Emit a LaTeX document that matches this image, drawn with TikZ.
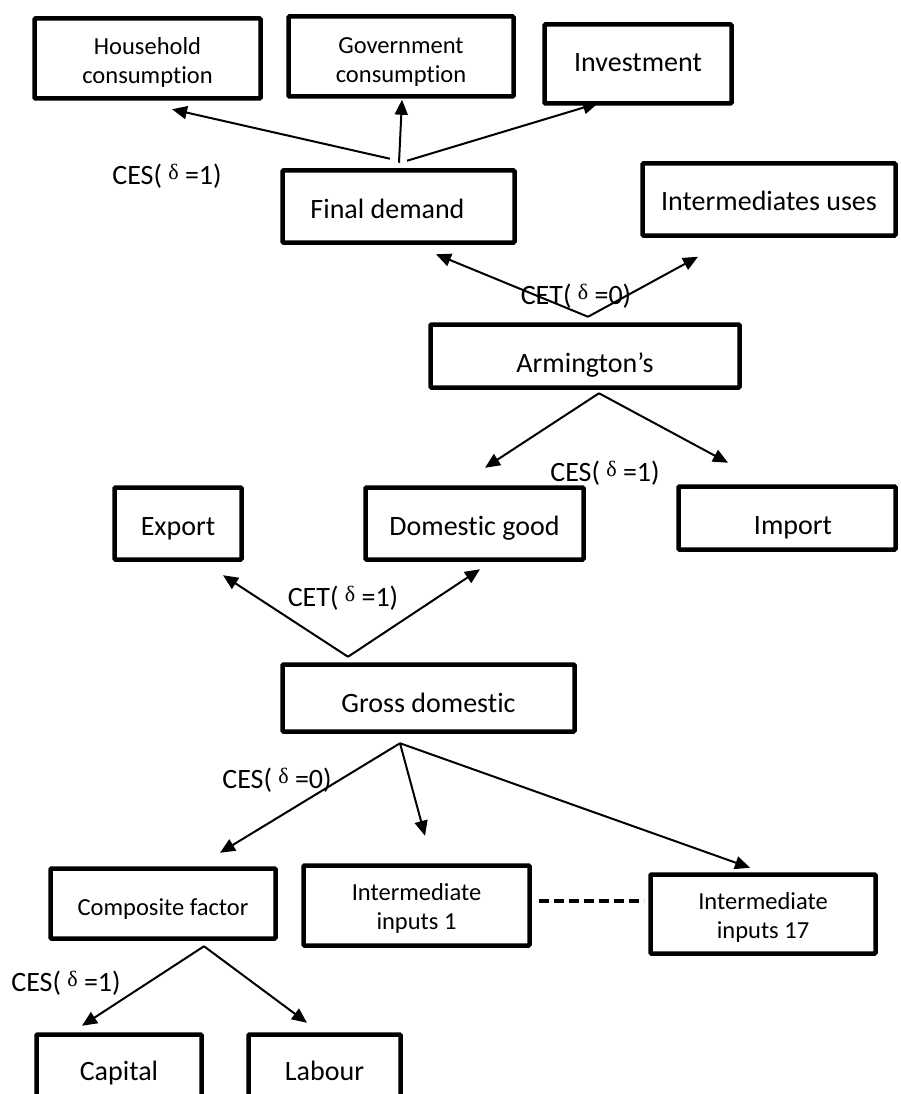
\documentclass[tikz,border=0pt]{standalone}
\usepackage{fontspec}
\setmainfont{Carlito}[Ligatures=NoCommon]
\newfontfamily\grkfont{Liberation Serif}
\usetikzlibrary{arrows.meta,calc}
\newcommand{\dlt}{\raisebox{5pt}{\fontsize{22}{26}\grkfont δ}}
% single line text with declared height (controls vertical position)
\newcommand{\tx}[2]{\raisebox{0pt}[#1][0pt]{#2}}
% two-line text, top-aligned, with declared height/depth
\newcommand{\tw}[3]{\raisebox{0pt}[20pt][#1]{\begin{tabular}[t]{@{}c@{}}#2\\#3\end{tabular}}}
\begin{document}
\begin{tikzpicture}[x=1pt,y=-1pt,
  box/.style={draw, line width=4.5pt, rectangle, rounded corners=1pt, inner sep=0pt, font=\fontsize{28}{33}\selectfont},
  sbox/.style={box, font=\fontsize{24.5}{29}\selectfont},
  conn/.style={line width=2pt, -{Triangle[length=15pt,width=13pt]}},
  lbl/.style={inner sep=0pt, font=\fontsize{28}{33}\selectfont},
  dashconn/.style={line width=4.5pt, dash pattern=on 10pt off 5pt}]
\clip (0,0) rectangle (900,1094);
\fill[white] (0,0) rectangle (900,1094);
% boxes
\node[sbox, minimum width=226pt, minimum height=80pt] (hh)  at (147.5,58.5) {\tw{28pt}{Household}{consumption}};
\node[sbox, minimum width=225pt, minimum height=80pt] (gov) at (401,56.5) {\tw{25.4pt}{Government}{consumption}};
\node[box, minimum width=187pt, minimum height=79pt] (inv) at (638,64) {\tx{15.8pt}{Investment}};
\node[box, minimum width=232pt, minimum height=72pt] (fd)  at (398.5,206.5) {\tx{24.8pt}{Final demand\hspace{22pt}}};
\node[box, minimum width=253pt, minimum height=72pt] (iu)  at (769,199.5) {\tx{22.8pt}{Intermediates uses}};
\node[box, minimum width=309pt, minimum height=63pt] (arm) at (585,356) {\tx{32.8pt}{Armington’s}};
\node[box, minimum width=127pt, minimum height=72pt] (exp) at (178,523.5) {\tx{23.8pt}{Export}};
\node[box, minimum width=218pt, minimum height=72pt] (dom) at (474.5,523.5) {\tx{24.8pt}{Domestic good}};
\node[box, minimum width=217pt, minimum height=63pt] (imp) at (787,518) {\tx{32.8pt}{\hspace{12pt}Import}};
\node[box, minimum width=292pt, minimum height=67pt] (gd)  at (428.5,698) {\tx{28.8pt}{Gross domestic}};
\node[sbox, minimum width=225pt, minimum height=70pt] (cf)  at (163,903.5) {\tx{23.6pt}{Composite factor}};
\node[sbox, minimum width=226pt, minimum height=80pt] (ii1) at (416.5,905.5) {\tw{30.4pt}{Intermediate}{inputs 1}};
\node[sbox, minimum width=225pt, minimum height=79pt] (ii17) at (763,914) {\tw{29.4pt}{Intermediate}{inputs 17}};
\node[box, minimum width=165pt, minimum height=77pt] (cap) at (119,1073) {\tx{14.8pt}{Capital}};
\node[box, minimum width=152pt, minimum height=77pt] (lab) at (324.5,1073) {\tx{14.8pt}{Labour}};
% connectors
\draw[conn] ($(fd.north)+(-8.5,-9.5)$) -- ($(hh.south)+(24.5,8.5)$);
\draw[conn] ($(fd.north)+(0.5,-5.5)$) -- ($(gov.south)+(1,1)$);
\draw[conn] ($(fd.north)+(8.5,-7.5)$) -- ($(inv.south)+(-40,-2.5)$);
\draw[conn] ($(arm.north)+(3,-5.5)$) -- ($(fd.south)+(37.5,9.5)$);
\draw[conn] ($(arm.north)+(3,-5.5)$) -- ($(iu.south)+(-71,19)$);
\draw[conn] ($(arm.south)+(14,3.5)$) -- ($(dom.north)+(10.5,-17.5)$);
\draw[conn] ($(arm.south)+(14,3.5)$) -- ($(imp.north)+(-59,-21.5)$);
\draw[conn] ($(gd.north)+(-80.5,-5.5)$) -- ($(exp.south)+(45,13.5)$);
\draw[conn] ($(gd.north)+(-80.5,-5.5)$) -- ($(dom.south)+(5.5,7.5)$);
\draw[conn] ($(gd.south)+(-28.5,9.5)$) -- ($(cf.north)+(57,-13.5)$);
\draw[conn] ($(gd.south)+(-28.5,9.5)$) -- ($(ii1.north)+(8.5,-27.5)$);
\draw[conn] ($(gd.south)+(-28.5,9.5)$) -- ($(ii17.north)+(-13,-4.5)$);
\draw[conn] ($(cf.south)+(41,5.5)$) -- ($(cap.north)+(-37,-6.5)$);
\draw[conn] ($(cf.south)+(41,5.5)$) -- ($(lab.north)+(-17.5,-9.5)$);
\draw[dashconn] ($(ii1.east)+(7,-4.5)$) -- ($(ii1.east)+(112,-4.5)$);
% labels
\node[lbl] (l1) at (167,176) {CES( \dlt\ =1)};
\node[lbl] (l2) at (576,296) {CET( \dlt\ =0)};
\node[lbl] (l3) at (605,473) {CES( \dlt\ =1)};
\node[lbl] (l4) at (343,598) {CET( \dlt\ =1)};
\node[lbl] (l5) at (277,780) {CES( \dlt\ =0)};
\node[lbl] (l6) at (66,983) {CES( \dlt\ =1)};
\end{tikzpicture}
\end{document}
